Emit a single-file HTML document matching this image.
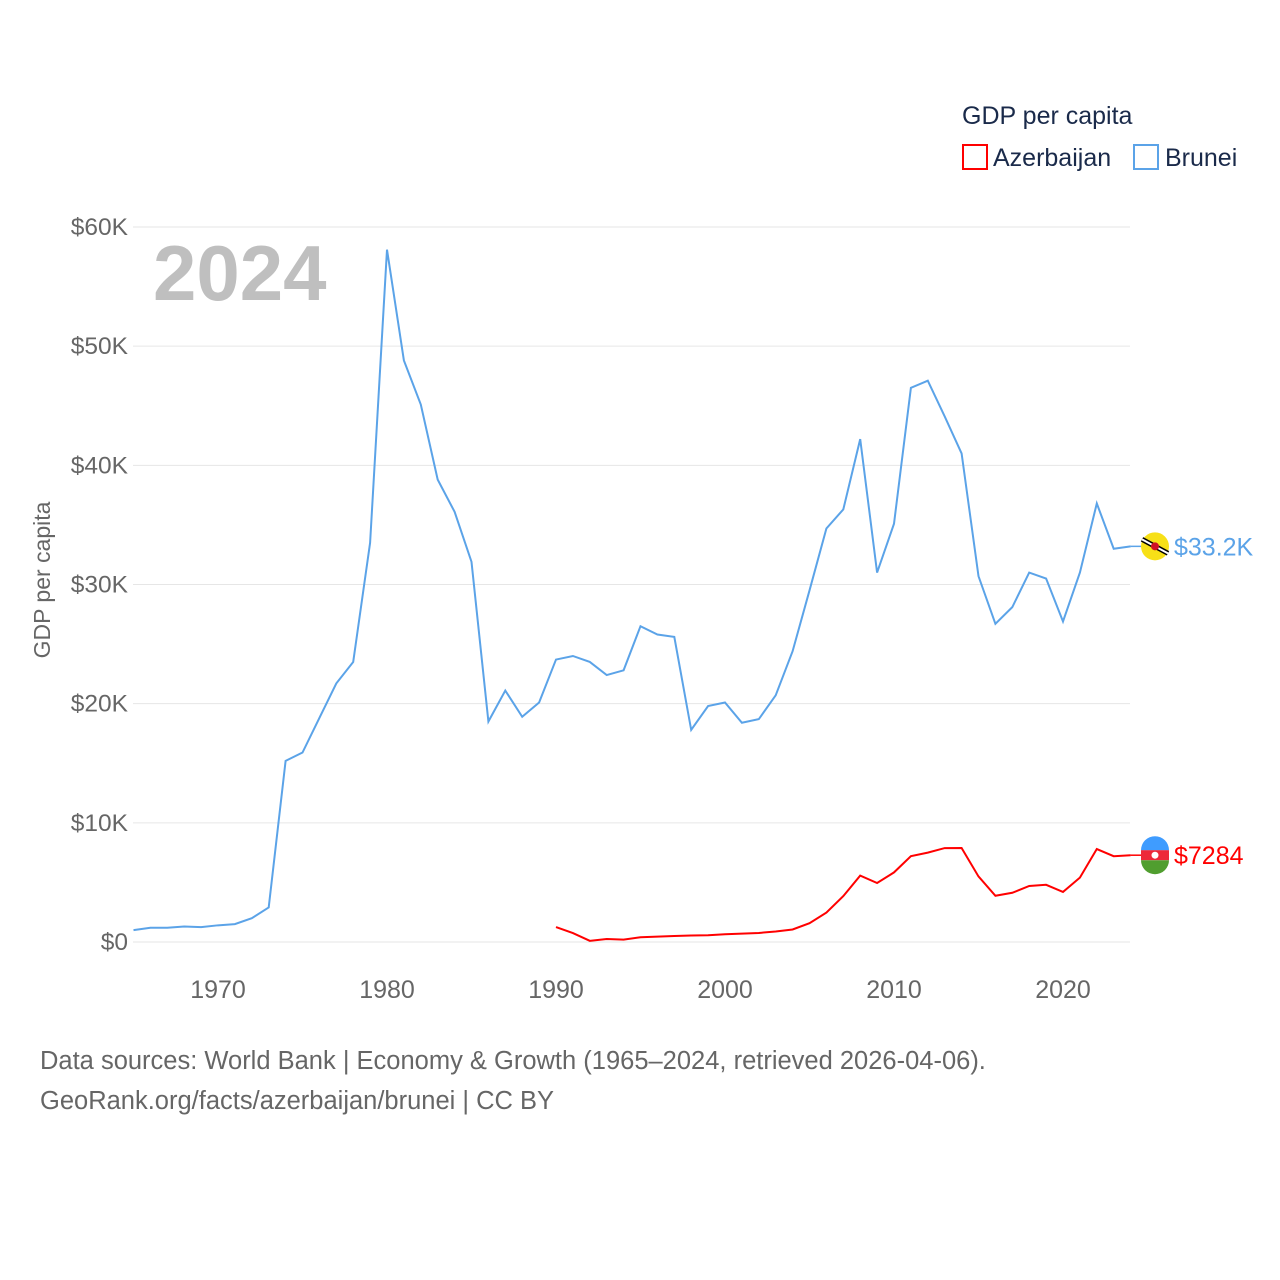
<!DOCTYPE html>
<html><head><meta charset="utf-8"><style>
body{margin:0;background:#fff;}
svg{display:block;font-family:"Liberation Sans",sans-serif;}
</style></head><body>
<svg id="chart" width="1280" height="1280" viewBox="0 0 1280 1280">
<g id="grid"></g>
<g id="yticks"></g>
<g id="xticks"></g>
<text x="153" y="300" font-size="78" font-weight="bold" fill="#bfbfbf">2024</text>
<text transform="translate(50,580) rotate(-90)" text-anchor="middle" font-size="23" fill="#666">GDP per capita</text>
<g>
<text x="962" y="124" font-size="25" fill="#1a2a4a">GDP per capita</text>
<g><rect x="963" y="145" width="24" height="24" fill="none" stroke="red" stroke-width="2"/><text x="993" y="166" font-size="25" fill="#1a2a4a">Azerbaijan</text></g>
<g><rect x="1134" y="145" width="24" height="24" fill="none" stroke="#5ba3e8" stroke-width="2"/><text x="1165" y="166" font-size="25" fill="#1a2a4a">Brunei</text></g>
</g>
<g id="series"></g>
<g id="ends"></g>
<text x="40" y="1069" font-size="25.5" fill="#666">Data sources: World Bank | Economy &amp; Growth (1965–2024, retrieved 2026-04-06).</text>
<text x="40" y="1109" font-size="25.5" fill="#666">GeoRank.org/facts/azerbaijan/brunei | CC BY</text>
</svg>
<script>
const years=[];for(let y=1965;y<=2024;y++)years.push(y);
const bruneiValues=[1.0,1.2,1.2,1.3,1.25,1.4,1.5,2.0,2.9,15.2,15.9,18.8,21.7,23.5,33.5,58.1,48.8,45.1,38.8,36.1,31.9,18.5,21.1,18.9,20.1,23.7,24.0,23.5,22.4,22.8,26.5,25.8,25.6,17.8,19.8,20.1,18.4,18.7,20.7,24.4,29.5,34.7,36.3,42.2,31.0,35.1,46.5,47.1,44.1,41.0,30.7,26.7,28.1,31.0,30.5,26.9,31.0,36.8,33.0,33.2];
const azYears=[];for(let y=1990;y<=2024;y++)azYears.push(y);
const azValues=[1.25,0.75,0.1,0.25,0.2,0.4,0.45,0.5,0.55,0.57,0.65,0.7,0.76,0.88,1.05,1.58,2.47,3.85,5.57,4.95,5.84,7.2,7.5,7.88,7.89,5.5,3.88,4.13,4.7,4.8,4.2,5.4,7.8,7.2,7.284];
const yTicks=[0,10,20,30,40,50,60];
const yTickLabels=["$0","$10K","$20K","$30K","$40K","$50K","$60K"];
const xTicks=[1970,1980,1990,2000,2010,2020];
const endLabels=["$33.2K","$7284"];
const NS="http://www.w3.org/2000/svg";
const X=y=>133.5+(y-1965)*16.9;
const Y=v=>942-v*11.917;
function mk(t,a,p){const e=document.createElementNS(NS,t);for(const k in a)e.setAttribute(k,a[k]);p.appendChild(e);return e;}
const grid=document.getElementById('grid'),yt=document.getElementById('yticks'),xt=document.getElementById('xticks');
yTicks.forEach((v,i)=>{
 const l=mk('line',{x1:133,x2:1130,y1:Y(v),y2:Y(v),stroke:'#e6e6e6','stroke-width':1},grid);
 
 
 const t=mk('text',{x:128,y:Y(v)+8,'text-anchor':'end','font-size':24.5,fill:'#666'},yt);
 t.textContent=yTickLabels[i];
 
 
});
xTicks.forEach(v=>{
 const t=mk('text',{x:X(v),y:998,'text-anchor':'middle','font-size':25,fill:'#666'},xt);
 t.textContent=v;
 
 
});
const s=document.getElementById('series');
const pb=mk('polyline',{points:years.map((y,i)=>X(y)+','+Y(bruneiValues[i])).join(' '),fill:'none',stroke:'#5ba3e8','stroke-width':2},s);


const pa=mk('polyline',{points:azYears.map((y,i)=>X(y)+','+Y(azValues[i])).join(' '),fill:'none',stroke:'red','stroke-width':2},s);


const e=document.getElementById('ends');
const lastB=bruneiValues[bruneiValues.length-1],lastA=azValues[azValues.length-1];
mk('line',{x1:X(2024),x2:1145,y1:Y(lastB),y2:Y(lastB),stroke:'#5ba3e8','stroke-width':1.5},e);
mk('line',{x1:X(2024),x2:1145,y1:Y(lastA),y2:Y(lastA),stroke:'red','stroke-width':1.5},e);
const fb=mk('g',{},e);


mk('circle',{cx:1155,cy:Y(lastB),r:14,fill:'#f7e017'},fb);
mk('line',{x1:1142,y1:Y(lastB)-7,x2:1168,y2:Y(lastB)+7,stroke:'#000','stroke-width':5},fb);
mk('line',{x1:1142,y1:Y(lastB)-7,x2:1168,y2:Y(lastB)+7,stroke:'#fff','stroke-width':2},fb);
mk('circle',{cx:1155,cy:Y(lastB),r:4,fill:'#cf1126'},fb);
const fa=mk('g',{},e);


const cy=Y(lastA);
mk('path',{d:`M1141,${cy-5} A14,14 0 0 1 1169,${cy-5} Z`,fill:'#3f9cff'},fa);
mk('rect',{x:1141,y:cy-5,width:28,height:10,fill:'#ed2939'},fa);
mk('path',{d:`M1141,${cy+5} A14,14 0 0 0 1169,${cy+5} Z`,fill:'#509e2f'},fa);
mk('circle',{cx:1155,cy:cy,r:3.5,fill:'#fff'},fa);
const tb=mk('text',{x:1174,y:Y(lastB)+9,'font-size':25,fill:'#5ba3e8'},e);
tb.textContent=endLabels[0];


const ta=mk('text',{x:1174,y:cy+9,'font-size':25,fill:'red'},e);
ta.textContent=endLabels[1];


</script>
</body></html>
